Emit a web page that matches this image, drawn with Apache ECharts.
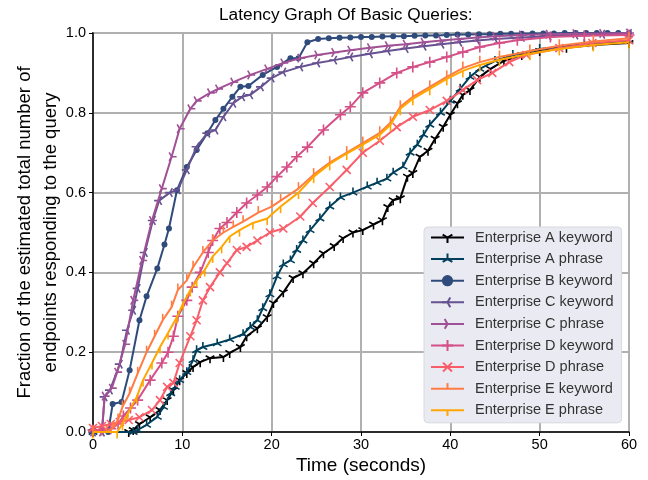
<!DOCTYPE html>
<html>
<head>
<meta charset="utf-8">
<script src="https://cdn.jsdelivr.net/npm/echarts@6/dist/echarts.min.js"></script>
<style>
  html, body { margin: 0; padding: 0; background: #fff; }
  #main { width: 648px; height: 480px; }
</style>
</head>
<body>
<div id="main"></div>
<script>
// time (s) , fraction of endpoints
var aKeyword = [[0,0],[4.0,0],[4.5,0.005],[5.2,0.02],[6.4,0.037],[7.5,0.055],[8.3,0.08],[9.0,0.105],[9.7,0.13],[10.5,0.148],
  [11.2,0.163],[12.0,0.175],[13.1,0.185],[14.6,0.188],[15.3,0.198],[16.5,0.213],[17.2,0.24],[18.4,0.26],[19.5,0.288],[20.2,0.323],
  [21.3,0.35],[22.4,0.386],[23.5,0.398],[24.7,0.423],[25.8,0.448],[27.0,0.466],[28.0,0.486],[29.1,0.5],[30.2,0.506],[31.4,0.52],
  [32.4,0.531],[33.0,0.564],[33.6,0.581],[34.4,0.586],[35.2,0.64],[35.8,0.649],[36.6,0.69],[37.5,0.705],[38.3,0.735],[39.2,0.765],
  [40.0,0.795],[40.8,0.824],[41.4,0.845],[42.2,0.857],[43.3,0.89],[44.5,0.91],[46.0,0.93],[48.0,0.945],[50.0,0.955],[53.0,0.963],
  [56.0,0.97],[60.0,0.975]];
var aPhrase = [[0,0],[4.5,0],[5.0,0.005],[6.0,0.018],[7.2,0.038],[7.9,0.063],[8.7,0.097],[9.2,0.113],[9.7,0.13],[10.5,0.15],
  [11.2,0.18],[11.6,0.205],[12.3,0.213],[13.9,0.222],[15.3,0.232],[16.8,0.245],[17.6,0.263],[18.4,0.28],[19.0,0.31],[19.8,0.345],
  [20.6,0.39],[21.3,0.42],[22.1,0.43],[22.8,0.456],[23.5,0.48],[24.3,0.506],[25.4,0.535],[26.5,0.565],[27.7,0.588],[29.1,0.6],
  [30.7,0.615],[31.8,0.625],[32.9,0.635],[33.6,0.65],[34.7,0.665],[35.5,0.7],[36.3,0.72],[37.0,0.745],[37.7,0.77],[38.9,0.8],
  [40.0,0.83],[41.1,0.86],[42.2,0.89],[43.3,0.91],[45.0,0.93],[47.0,0.945],[50.0,0.96],[55.0,0.972],[60.0,0.98]];
var bKeyword = [[0,0],[1.7,0],[2.2,0.07],[3.2,0.075],[4.1,0.155],[5.2,0.28],[6.0,0.34],[7.2,0.41],[8.0,0.47],[8.5,0.51],
  [9.4,0.606],[10.5,0.664],[11.6,0.707],[12.8,0.749],[13.7,0.782],[14.6,0.81],[15.6,0.84],[16.5,0.865],[17.4,0.867],[19.0,0.895],
  [20.6,0.915],[22.1,0.937],[23.0,0.937],[24.0,0.977],[25.2,0.985],[26.4,0.987],[27.6,0.988],[28.8,0.989],[30.0,0.99],[31.2,0.99],
  [32.4,0.991],[33.6,0.992],[34.8,0.992],[36.0,0.993],[37.2,0.994],[38.4,0.994],[39.6,0.995],[40.8,0.996],[42.0,0.996],[43.2,0.997],
  [44.4,0.997],[45.6,0.998],[46.8,0.998],[48.0,0.998],[49.2,0.999],[50.4,0.999],[51.6,0.999],[52.8,1],[54.0,1],[55.2,1],
  [56.4,1],[57.6,1],[58.8,1],[60.0,1]];
var cKeyword = [[0,0],[1.0,0],[1.3,0.088],[1.9,0.105],[3.0,0.17],[3.8,0.255],[4.5,0.305],[5.0,0.36],[5.8,0.45],[6.7,0.53],
  [7.4,0.58],[8.6,0.6],[9.5,0.607],[10.5,0.657],[11.6,0.715],[12.8,0.749],[13.7,0.757],[14.6,0.79],[15.7,0.824],[16.7,0.84],
  [17.6,0.845],[18.8,0.865],[20.0,0.887],[21.3,0.902],[23.2,0.915],[25.1,0.925],[27.0,0.932],[28.8,0.94],[31.0,0.948],[33.0,0.955],
  [35.0,0.961],[37.0,0.967],[39.0,0.972],[41.0,0.977],[43.0,0.981],[45.0,0.985],[48.0,0.989],[51.0,0.992],[54.0,0.995],[57.0,0.997],
  [60.0,0.999]];
var cPhrase = [[0,0],[1.0,0],[1.3,0.09],[2.1,0.11],[2.7,0.15],[3.6,0.22],[4.5,0.33],[5.5,0.43],[6.6,0.53],[7.7,0.61],
  [8.8,0.69],[9.7,0.76],[10.9,0.81],[11.6,0.83],[13.1,0.85],[14.0,0.86],[15.7,0.877],[17.6,0.895],[19.5,0.91],[21.3,0.925],
  [23.2,0.937],[25.1,0.945],[27.0,0.951],[28.8,0.957],[31.0,0.963],[33.0,0.968],[35.0,0.972],[37.0,0.977],[39.0,0.981],[41.0,0.985],
  [43.0,0.989],[45.0,0.992],[48.0,0.995],[51.0,0.997],[54.0,0.998],[57.0,0.999],[60.0,1]];
var dKeyword = [[0,0.005],[1,0.005],[2,0.008],[2.8,0.02],[3.4,0.04],[4.2,0.06],[5.0,0.08],[6.4,0.13],[7.7,0.173],[8.4,0.2],
  [9.0,0.24],[9.5,0.29],[10.5,0.33],[11.1,0.363],[12.0,0.4],[12.9,0.45],[13.4,0.48],[14.2,0.51],[15.0,0.525],[16.1,0.55],
  [17.2,0.574],[18.4,0.594],[19.5,0.614],[20.6,0.64],[21.7,0.664],[22.8,0.69],[24.0,0.714],[25.8,0.757],[27.7,0.795],[28.8,0.815],
  [30.2,0.85],[32.1,0.875],[34.0,0.9],[35.8,0.915],[37.7,0.927],[39.6,0.94],[41.4,0.952],[43.3,0.965],[45.5,0.975],[47.5,0.982],
  [51.2,0.99],[55.0,0.993],[60.0,0.995]];
var dPhrase = [[0,0.01],[1,0.015],[2,0.02],[3,0.025],[4,0.03],[5.2,0.037],[6.6,0.055],[7.5,0.08],[8.3,0.113],[9.0,0.123],
  [9.7,0.173],[10.9,0.24],[11.6,0.28],[12.3,0.33],[13.1,0.363],[14.2,0.4],[15.0,0.423],[16.1,0.456],[17.2,0.464],[18.4,0.48],
  [19.8,0.5],[21.3,0.51],[23.2,0.54],[24.6,0.574],[26.5,0.614],[28.4,0.657],[30.2,0.7],[32.1,0.73],[34.0,0.764],[35.8,0.79],
  [37.7,0.807],[39.6,0.83],[41.4,0.857],[43.0,0.882],[44.7,0.9],[46.6,0.927],[48.5,0.945],[52.2,0.962],[55.9,0.975],[60.0,0.982]];
var eKeyword = [[0,0],[1.5,0],[2.2,0.01],[2.8,0.03],[3.3,0.063],[4.1,0.097],[5.0,0.147],[6.0,0.2],[6.9,0.24],[7.8,0.28],
  [8.8,0.313],[9.5,0.356],[10.5,0.38],[11.2,0.413],[12.3,0.45],[13.4,0.48],[14.6,0.5],[15.7,0.514],[16.8,0.527],[18.5,0.55],
  [20.0,0.565],[21.0,0.58],[23.0,0.61],[24.7,0.645],[26.5,0.675],[28.4,0.7],[30.2,0.724],[32.1,0.75],[33.3,0.775],[34.4,0.815],
  [35.8,0.84],[37.7,0.865],[39.6,0.89],[41.4,0.912],[43.3,0.927],[45.5,0.94],[48.9,0.955],[52.2,0.968],[56.0,0.979],[60.0,0.987]];
var ePhrase = [[0,0],[2.7,0],[3.3,0.02],[3.9,0.047],[4.9,0.088],[5.6,0.13],[6.6,0.173],[7.5,0.213],[8.4,0.248],[9.4,0.288],
  [10.1,0.323],[10.9,0.356],[11.6,0.38],[12.5,0.406],[13.4,0.44],[14.4,0.464],[15.3,0.49],[16.4,0.506],[17.9,0.524],[19.5,0.535],
  [21.0,0.565],[23.0,0.6],[24.7,0.64],[26.5,0.672],[28.4,0.698],[30.2,0.72],[32.1,0.745],[33.3,0.77],[34.4,0.81],[35.8,0.835],
  [37.7,0.86],[39.6,0.885],[41.4,0.905],[43.3,0.92],[45.5,0.933],[48.9,0.948],[52.2,0.96],[56.0,0.97],[60.0,0.977]];

var seriesNames = ['Enterprise A keyword', 'Enterprise A phrase', 'Enterprise B keyword', 'Enterprise C keyword',
  'Enterprise C phrase', 'Enterprise D keyword', 'Enterprise D phrase', 'Enterprise E keyword', 'Enterprise E phrase'];
var seriesData = [aKeyword, aPhrase, bKeyword, cKeyword, cPhrase, dKeyword, dPhrase, eKeyword, ePhrase];
var xTicks = [0, 10, 20, 30, 40, 50, 60];
var yTicks = [0, 0.2, 0.4, 0.6, 0.8, 1.0];

var colors = ['#000000', '#003f5c', '#2f4b7c', '#665191', '#a05195', '#d45087', '#f95d6a', '#ff7c43', '#ffa600'];
// matplotlib-like marker shapes, box prefix keeps them centred on the point
var box = 'M-10,-10 M10,10 ';
var marks = [
  'path://' + box + 'M0,0 L0,10 M0,0 L-8.66,-5 M0,0 L8.66,-5',   // tri down
  'path://' + box + 'M0,0 L0,-10 M0,0 L-8.66,5 M0,0 L8.66,5',    // tri up
  'circle',
  'path://' + box + 'M0,0 L-10,0 M0,0 L5,-8.66 M0,0 L5,8.66',    // tri left
  'path://' + box + 'M0,0 L10,0 M0,0 L-5,-8.66 M0,0 L-5,8.66',   // tri right
  'path://' + box + 'M-10,0 L10,0 M0,-10 L0,10',                 // plus
  'path://' + box + 'M-8,-8 L8,8 M-8,8 L8,-8',                   // x
  'path://' + box + 'M0,0 L0,-10',                               // tick up
  'path://' + box + 'M0,0 L0,10'                                 // tick down
];
var sizes = [10, 10, 6, 10, 10, 11, 10, 13, 13];

var series = [];
for (var i = 0; i < seriesNames.length; i++) {
  series.push({
    name: seriesNames[i],
    type: 'line',
    data: seriesData[i],
    symbol: marks[i],
    symbolSize: sizes[i],
    showSymbol: true,
    lineStyle: { color: colors[i], width: 2 },
    itemStyle: { color: colors[i], borderColor: colors[i], borderWidth: i == 2 ? 0 : 1.6 },
    emphasis: { disabled: true },
    z: 3 + i
  });
}

var font = 'Liberation Sans, Arial, sans-serif';
var myChart = echarts.init(document.getElementById('main'), null, { renderer: 'canvas' });
var option = {
  animation: false,
  backgroundColor: '#ffffff',
  textStyle: { fontFamily: font },
  title: {
    text: 'Latency Graph Of Basic Queries:',
    left: 214,
    top: 2,
    textStyle: { fontSize: 17.3, fontWeight: 'normal', color: '#000', fontFamily: font }
  },
  grid: {
    left: 93, right: 19, top: 33, bottom: 48,
    containLabel: false,
    outerBoundsMode: 'none',
    show: true, borderColor: '#000', borderWidth: 1.5, backgroundColor: 'transparent'
  },
  legend: {
    data: seriesNames,
    orient: 'vertical',
    left: 424,
    top: 227,
    itemWidth: 33,
    itemHeight: 14,
    itemGap: 6.6,
    padding: [3, 8, 5, 6],
    backgroundColor: '#eaeaf2',
    borderColor: '#d8d8de',
    borderWidth: 1,
    borderRadius: 4,
    textStyle: { fontSize: 14.5, color: '#333', padding: [0, 0, 0, 6], fontFamily: font }
  },
  xAxis: {
    type: 'value',
    min: 0, max: 60, interval: 10,
    name: 'Time (seconds)',
    nameLocation: 'middle',
    nameGap: 24,
    nameMoveOverlap: false,
    nameTextStyle: { fontSize: 19, color: '#000' },
    axisLine: { lineStyle: { color: '#000', width: 1.5 } },
    axisTick: { show: true, length: 4, lineStyle: { color: '#000' } },
    axisLabel: { fontSize: 14.5, color: '#000', margin: 5,
      formatter: function (v) { return String(v); } },
    splitLine: { show: true, lineStyle: { color: '#b0b0b0', width: 2 } }
  },
  yAxis: {
    type: 'value',
    min: 0, max: 1, interval: 0.2,
    name: 'Fraction of the estimated total number of\nendpoints responding to the query',
    nameLocation: 'middle',
    nameGap: 29,
    nameMoveOverlap: false,
    nameRotate: 90,
    nameTextStyle: { fontSize: 18.5, color: '#000', lineHeight: 26 },
    axisLine: { show: true, lineStyle: { color: '#000', width: 1.5 } },
    axisTick: { show: true, length: 4, lineStyle: { color: '#000' } },
    axisLabel: { fontSize: 14.5, color: '#000', margin: 7,
      formatter: function (v) { return v.toFixed(1); } },
    splitLine: { show: true, lineStyle: { color: '#b0b0b0', width: 2 } }
  },
  series: series
};
myChart.setOption(option);
</script>
</body>
</html>
